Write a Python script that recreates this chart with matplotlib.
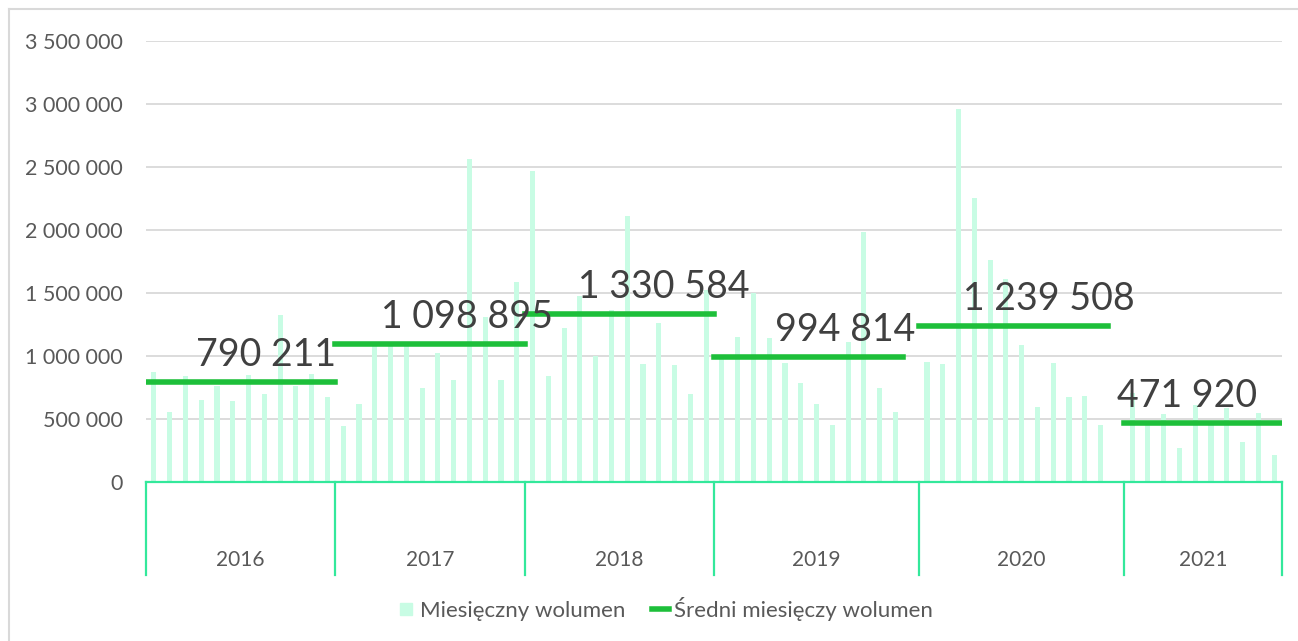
import numpy as np
import matplotlib.pyplot as plt
from matplotlib.ticker import FuncFormatter
from matplotlib.lines import Line2D

nan = np.nan

years = ['2016', '2017', '2018', '2019', '2020', '2021']

# monthly volume, one list per year (2019 and 2020 have an empty extra slot)
vol_2016 = [873000, 556000, 844000, 651000, 760000, 643000, 849000, 698000, 1323000, 765000, 858000, 675000]
vol_2017 = [444000, 616000, 1080000, 1100000, 1095000, 743000, 1026000, 810000, 2563000, 1312000, 810000, 1585000]
vol_2018 = [2471000, 841000, 1225000, 1479000, 1003000, 1365000, 2114000, 937000, 1265000, 931000, 698000, 1524000]
vol_2019 = [990000, 1151000, 1497000, 1140000, 942000, 788000, 616000, 452000, 1114000, 1984000, 743000, 556000, nan]
vol_2020 = [952000, 937000, 2960000, 2257000, 1762000, 1611000, 1087000, 595000, 944000, 675000, 680000, 455000, nan]
vol_2021 = [709000, 465000, 542000, 272000, 611000, 460000, 590000, 320000, 545000, 212000]
monthly = [vol_2016, vol_2017, vol_2018, vol_2019, vol_2020, vol_2021]

averages = [790211, 1098895, 1330584, 994814, 1239508, 471920]

# where the big value labels sit (slots from the start of each year)
label_pos = [7.1, 7.84, 8.3, 7.8, 7.7, 3.5]

bar_color = '#C8FCE4'
avg_color = '#1DBF3A'
axis_color = '#33E89B'
grid_color = '#D9D9D9'
text_color = '#595959'

plt.rcParams['font.family'] = ['Lato', 'DejaVu Sans']

W, H = 1298, 641
fig = plt.figure(figsize=(W / 100, H / 100), dpi=100)
ax = fig.add_axes([146 / W, 1 - 482 / H, (1282 - 146) / W, 441 / H])


def fmt(v, pos=None):
    return '{:,.0f}'.format(v).replace(',', ' ')


start = 0
bounds = [-0.5]
for year, vals, avg, lp in zip(years, monthly, averages, label_pos):
    n = len(vals)
    xs = np.arange(start, start + n)
    ax.bar(xs, vals, width=0.32, color=bar_color, zorder=2)
    n_valid = int(np.sum(~np.isnan(np.array(vals, dtype=float))))
    ax.plot([start - 0.5, start + n_valid - 0.5], [avg, avg], color=avg_color, lw=4,
            solid_capstyle='projecting', zorder=3)
    ax.annotate(fmt(avg), xy=(start + lp, avg), xytext=(0, 11.5), textcoords='offset points',
                ha='center', va='baseline', fontsize=27, color='#404040', zorder=4)
    ax.text(start + (n - 1) / 2, -0.177, year, transform=ax.get_xaxis_transform(),
            ha='center', va='center', fontsize=15, color=text_color)
    start += n
    bounds.append(start - 0.5)

total = start
ax.set_xlim(-0.5, total - 0.5)
ax.set_ylim(0, 3500000)
ax.set_yticks(np.arange(0, 3500001, 500000))
ax.yaxis.set_major_formatter(FuncFormatter(fmt))
ax.tick_params(axis='y', length=0, pad=17, labelsize=15.5, labelcolor=text_color)
ax.set_xticks([])
ax.yaxis.grid(True, color=grid_color, lw=1.3)
ax.set_axisbelow(True)

for s in ['left', 'right', 'top']:
    ax.spines[s].set_visible(False)
ax.spines['bottom'].set_color(axis_color)
ax.spines['bottom'].set_linewidth(1.6)
ax.spines['bottom'].set_zorder(5)

# year separators of the category axis
for b in bounds:
    ax.plot([b, b], [0, -0.211], color=axis_color, lw=1.6, clip_on=False,
            transform=ax.get_xaxis_transform())

handles = [Line2D([], [], marker='s', linestyle='none', markersize=9,
                  markerfacecolor=bar_color, markeredgecolor=bar_color),
           Line2D([], [], color=avg_color, lw=4)]
fig.legend(handles, ['Miesięczny wolumen', 'Średni miesięczy wolumen'], loc='center',
           bbox_to_anchor=(665 / W, 1 - 609 / H), ncol=2, frameon=False, fontsize=16,
           handlelength=0.8, handletextpad=0.2, columnspacing=1.2, labelcolor=text_color)

# chart area border (left and top edges visible)
fig.add_artist(Line2D([9 / W, 9 / W], [0, 1 - 9 / H], color=grid_color, lw=1.5))
fig.add_artist(Line2D([9 / W, 1], [1 - 9 / H, 1 - 9 / H], color=grid_color, lw=1.5))

fig.savefig('out.png', dpi=100)
